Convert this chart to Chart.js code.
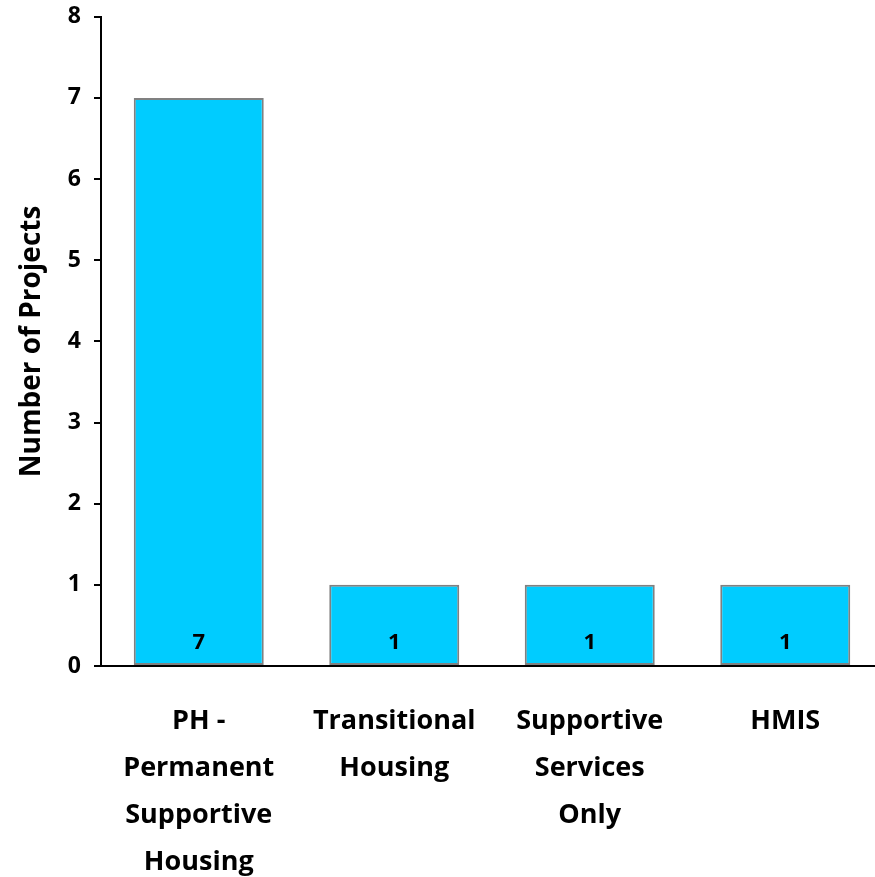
<!DOCTYPE html>
<html>
<head>
<meta charset="utf-8">
<script src="https://cdn.jsdelivr.net/npm/chart.js@4.4.1/dist/chart.umd.min.js"></script>
<style>
html,body{margin:0;padding:0;background:#fff;overflow:hidden;width:875px;height:877px;}
#wrap{position:absolute;left:0;top:-10px;width:883px;height:887px;}
</style>
</head>
<body>
<div id="wrap"><canvas id="c"></canvas></div>
<script>
const categories = [["PH -","Permanent","Supportive","Housing"],["Transitional","Housing"],["Supportive","Services","Only"],["HMIS"]];
const projectCounts = [7, 1, 1, 1];
const yTicks = [0,1,2,3,4,5,6,7,8];

const FONT = "'Open Sans', sans-serif";

const barLabels = {
  id: 'barLabels',
  afterDatasetsDraw(chart) {
    const ctx = chart.ctx;
    const meta = chart.getDatasetMeta(0);
    const yScale = chart.scales.y;
    ctx.save();
    ctx.font = "bold 22px " + FONT;
    ctx.fillStyle = '#000';
    ctx.textAlign = 'center';
    ctx.textBaseline = 'middle';
    meta.data.forEach((bar, i) => {
      const yPos = yScale.getPixelForValue(0) - 23;
      ctx.fillText(String(projectCounts[i]), bar.x, yPos);
    });
    ctx.restore();
  }
};

new Chart(document.getElementById('c'), {
  type: 'bar',
  data: {
    labels: categories,
    datasets: [{
      data: projectCounts,
      backgroundColor: '#00CCFF',
      borderColor: '#808080',
      borderWidth: 2,
      borderSkipped: false,
      categoryPercentage: 1,
      barPercentage: 0.665
    }]
  },
  options: {
    responsive: true,
    maintainAspectRatio: false,
    animation: false,
    layout: { padding: { top: -7, right: 0, left: 0, bottom: 0 } },
    plugins: { legend: { display: false }, tooltip: { enabled: false } },
    scales: {
      x: {
        grid: { display: false },
        border: { color: '#000', width: 2 },
        ticks: {
          color: '#000',
          font: { family: FONT, size: 27, weight: 'bold', lineHeight: '47px' },
          padding: 24,
          maxRotation: 0,
          autoSkip: false
        },
        afterFit(scale) { scale.height = 211; }
      },
      y: {
        min: 0, max: 8,
        afterBuildTicks(scale) { scale.ticks = yTicks.map(v => ({ value: v })); },
        grid: { drawOnChartArea: false, drawTicks: true, tickLength: 7, color: '#000', lineWidth: 2 },
        border: { color: '#000', width: 2 },
        ticks: {
          color: '#000',
          font: { family: FONT, size: 23, weight: 'bold' },
          padding: 13
        },
        title: {
          display: true,
          text: 'Number of Projects',
          color: '#000',
          font: { family: FONT, size: 28, weight: 'bold' },
          padding: { top: 15, bottom: 0 }
        },
        afterFit(scale) { scale.width = 101; }
      }
    }
  },
  plugins: [barLabels]
});
</script>
</body>
</html>
